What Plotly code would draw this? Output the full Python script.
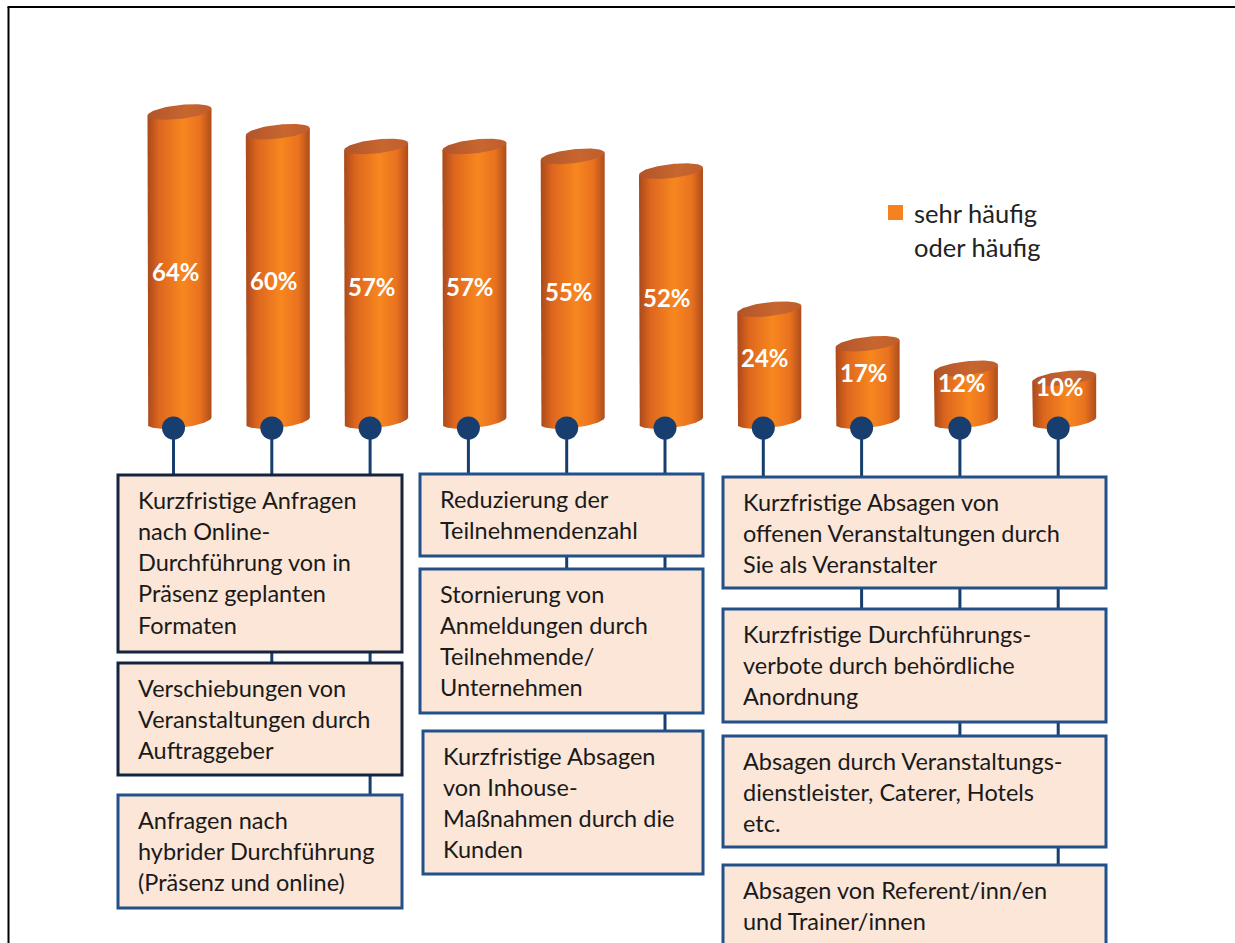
import numpy as np
import plotly.graph_objects as go

# ---------------- data ----------------
categories = [
    "Kurzfristige Anfragen\nnach Online-\nDurchführung von in\nPräsenz geplanten\nFormaten",
    "Verschiebungen von\nVeranstaltungen durch\nAuftraggeber",
    "Anfragen nach\nhybrider Durchführung\n(Präsenz und online)",
    "Reduzierung der\nTeilnehmendenzahl",
    "Stornierung von\nAnmeldungen durch\nTeilnehmende/\nUnternehmen",
    "Kurzfristige Absagen\nvon Inhouse-\nMaßnahmen durch die\nKunden",
    "Kurzfristige Absagen von\noffenen Veranstaltungen durch\nSie als Veranstalter",
    "Kurzfristige Durchführungs-\nverbote durch behördliche\nAnordnung",
    "Absagen durch Veranstaltungs-\ndienstleister, Caterer, Hotels\netc.",
    "Absagen von Referent/inn/en\nund Trainer/innen",
]
values = [64, 60, 57, 57, 55, 52, 24, 17, 12, 10]
value_labels = [f"{v}%" for v in values]
series_name = ["sehr häufig", "oder häufig"]

# ---------------- layout / style constants ----------------
W, H = 1235, 943
X_PX0, X_STEP = 179.5, 98.3      # pixel of category 0, pixels per category
Y_PX0, Y_STEP = 427.5, 4.93      # pixel of value 0, pixels per percent

FONT = "Lato"
BOX_FONT_SIZE = 23.5
LINE_STEP = 31.3
FIRST_LINE = 24.5
TEXT_PAD = 18

# box rectangles in pixels (x0, y0, x1, y1), one per category
BOX_RECTS = [
    (118, 475, 402, 652), (118, 663, 402, 775), (118, 795, 402, 908),
    (420, 474, 703, 556), (420, 569, 703, 713), (423, 731, 703, 874),
    (723, 477, 1106, 588), (723, 609, 1106, 722), (723, 736, 1106, 847),
    (723, 865, 1106, 962),
]
BOX_BORDER = ["#14243f", "#14243f", "#21508a", "#21508a", "#21508a",
              "#21508a", "#21508a", "#21508a", "#21508a", "#21508a"]

A = 32 / X_STEP          # cylinder half width (category units)
B = 7 / Y_STEP           # ellipse vertical radius (value units)
S = 3.5 / Y_STEP         # perspective tilt
FLOOR = 6.5 / Y_STEP     # floor ellipse centre (value units)
DOT_DX = -6 / X_STEP
LABEL_DX = -4 / X_STEP

BODY_SCALE = [[0, "#a9491b"], [0.18, "#dd661e"], [0.55, "#f7871f"],
              [0.82, "#ea721f"], [1, "#ad4d1c"]]
TOP_SCALE = [[0, "#b0552a"], [0.6, "#c8662f"], [1, "#bf5e2c"]]
NAVY = "#173e6e"


def px(x):
    return x / W


def py(y):
    return 1 - y / H


fig = go.Figure()

t_arc = np.linspace(np.pi, 0, 60)
t_full = np.linspace(0, 2 * np.pi, 120)

for i, v in enumerate(values):
    cx = i
    # body
    bx = np.concatenate([[cx - A, cx - A], cx + A * np.cos(t_arc), [cx + A, cx - A]])
    by = np.concatenate([[v - S, FLOOR - S],
                         FLOOR - B * np.sin(t_arc) + S * np.cos(t_arc),
                         [v + S, v - S]])
    fig.add_trace(go.Scatter(
        x=bx, y=by, mode="lines", fill="toself", line=dict(width=0),
        fillgradient=dict(type="horizontal", colorscale=BODY_SCALE),
        hoverinfo="skip", showlegend=False))
    # top ellipse
    tx = cx + A * np.cos(t_full)
    ty = v + B * np.sin(t_full) + S * np.cos(t_full)
    fig.add_trace(go.Scatter(
        x=tx, y=ty, mode="lines", fill="toself", line=dict(width=0),
        fillgradient=dict(type="horizontal", colorscale=TOP_SCALE),
        hoverinfo="skip", showlegend=False))

# dots
dot_x = [i + DOT_DX for i in range(len(values))]
dot_y = [FLOOR - B] * len(values)
fig.add_trace(go.Scatter(x=dot_x, y=dot_y, mode="markers",
                         marker=dict(size=23, color=NAVY, line=dict(width=0)),
                         hoverinfo="skip", showlegend=False))

shapes = []
annotations = []

# connectors (beneath boxes)
dot_px_y = Y_PX0 - (FLOOR - B) * Y_STEP
for i in range(len(values)):
    shapes.append(dict(type="line", xref="x", yref="paper",
                       x0=dot_x[i], x1=dot_x[i],
                       y0=py(dot_px_y), y1=py(BOX_RECTS[i][1] + 2),
                       line=dict(color=NAVY, width=3), layer="below"))

# boxes + text
for i, lab in enumerate(categories):
    x0, y0, x1, y1 = BOX_RECTS[i]
    shapes.append(dict(type="rect", xref="paper", yref="paper",
                       x0=px(x0), x1=px(x1), y0=py(y0), y1=py(y1),
                       fillcolor="#fbe6d7",
                       line=dict(color=BOX_BORDER[i], width=3), layer="below"))
    for j, line in enumerate(lab.split("\n")):
        annotations.append(dict(
            xref="paper", yref="paper", x=px(x0 + TEXT_PAD),
            y=py(y0 + FIRST_LINE + j * LINE_STEP),
            xanchor="left", yanchor="middle", text=line, showarrow=False,
            font=dict(family=FONT, size=BOX_FONT_SIZE, color="#1a1a1a")))

# value labels on the cylinders
for i, v in enumerate(values):
    annotations.append(dict(
        xref="x", yref="y", x=i + LABEL_DX, y=3.9 + 0.432 * v,
        text=f"<b>{value_labels[i]}</b>", showarrow=False,
        xanchor="center", yanchor="middle",
        font=dict(family=FONT, size=24, color="white")))

# legend
shapes.append(dict(type="rect", xref="paper", yref="paper",
                   x0=px(888), x1=px(903), y0=py(205), y1=py(220),
                   fillcolor="#f58220", line=dict(width=0)))
for j, line in enumerate(series_name):
    annotations.append(dict(
        xref="paper", yref="paper", x=px(912), y=py(213 + j * 34),
        xanchor="left", yanchor="middle", text=line, showarrow=False,
        font=dict(family=FONT, size=25.5, color="#222222")))

# frame
shapes.append(dict(type="line", xref="paper", yref="paper",
                   x0=px(7.5), x1=px(W), y0=py(7), y1=py(7),
                   line=dict(color="black", width=2)))
shapes.append(dict(type="line", xref="paper", yref="paper",
                   x0=px(8.5), x1=px(8.5), y0=py(7), y1=py(H),
                   line=dict(color="black", width=2)))

fig.update_layout(
    width=W, height=H, autosize=False,
    margin=dict(l=0, r=0, t=0, b=0, pad=0),
    paper_bgcolor="white", plot_bgcolor="white",
    shapes=shapes, annotations=annotations, showlegend=False,
    xaxis=dict(range=[-X_PX0 / X_STEP, (W - X_PX0) / X_STEP], visible=False,
               fixedrange=True),
    yaxis=dict(range=[(Y_PX0 - H) / Y_STEP, Y_PX0 / Y_STEP], visible=False,
               fixedrange=True),
)

fig.write_html("out.html")
